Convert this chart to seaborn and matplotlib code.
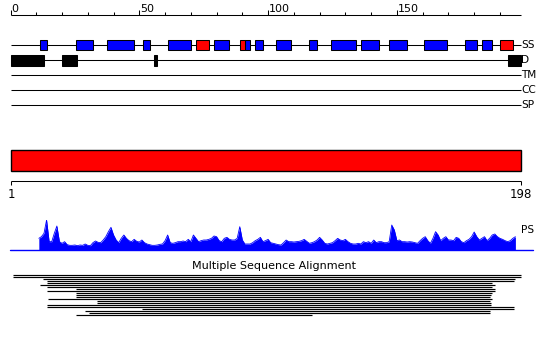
import matplotlib
matplotlib.use("Agg")
import matplotlib.pyplot as plt
import seaborn as sns
import numpy as np
import pandas as pd

# ---------------- data ----------------
seq_len = 198
ruler_ticks = list(range(0, 200, 10))
ruler_labels = [0, 50, 100, 150]

track_names = ["SS", "D", "TM", "CC", "SP"]

# secondary structure elements (start, end) in residue units
ss_blue = [(11.5, 14), (25.5, 32), (37.5, 48), (51.5, 54), (61, 70), (79, 85),
           (91, 93), (95, 98), (103, 109), (116, 119), (124.5, 134), (136, 143),
           (147, 154), (160.5, 169.5), (176.5, 181), (183, 187)]
ss_red = [(72, 77), (89, 91), (190, 195)]

# disorder segments
disorder = [(0, 13), (20, 26), (55.8, 56.8), (193, 198)]

# domain bar
domain = [(0, 198)]
domain_labels = ["1", "198"]

# PS profile, residues 11..196
ps_start = 11
ps_values = [35, 40, 50, 90, 25, 25, 50, 72, 25, 20,
             25, 16, 14, 14, 15, 13, 15, 14, 18, 14,
             13, 22, 27, 23, 22, 30, 40, 55, 68, 45,
             30, 22, 35, 45, 35, 28, 25, 32, 26, 24,
             30, 22, 18, 16, 14, 14, 15, 17, 18, 28,
             45, 22, 20, 22, 25, 25, 27, 25, 32, 25,
             45, 35, 25, 28, 30, 30, 32, 35, 42, 40,
             28, 25, 35, 38, 32, 30, 30, 35, 70, 30,
             18, 18, 18, 22, 28, 32, 38, 25, 28, 32,
             22, 20, 18, 16, 15, 22, 30, 25, 25, 24,
             25, 26, 28, 32, 26, 20, 22, 25, 30, 38,
             30, 20, 18, 20, 22, 28, 35, 30, 28, 32,
             25, 20, 18, 18, 20, 18, 25, 22, 25, 20,
             30, 22, 25, 25, 22, 22, 25, 75, 60, 28,
             30, 25, 25, 24, 25, 24, 22, 20, 28, 35,
             40, 28, 20, 35, 55, 45, 28, 35, 40, 30,
             30, 28, 38, 35, 25, 22, 28, 32, 40, 54,
             40, 30, 35, 40, 28, 35, 45, 48, 40, 35,
             32, 28, 25, 28, 35, 40]

# multiple sequence alignment rows (start, end) in residue units
msa_start = [1, 1, 12.5, 14, 14, 11.5, 14, 25.5, 14, 25.5, 25.5,
             25.5, 14.5, 33.5, 33.5, 14, 14, 51, 29, 30.5, 25.5]
msa_end = [198, 198, 196, 195.5, 187, 188, 187, 188, 188, 187, 186.5,
           186, 187, 186, 186.5, 186.5, 195.5, 195.5, 186, 186, 117]

# ---------------- layout ----------------
W, H = 550, 337
px_per_res = 2.576
x_origin = 10.5
xlim = (-x_origin / px_per_res, (W - x_origin) / px_per_res)

ruler_y = 15
track_y = {"SS": 45, "D": 60, "TM": 75, "CC": 90, "SP": 105}
box_h = {"SS": 10, "D": 11}
domain_y, domain_h = 160.5, 20.5
ruler2_y = 181
msa_y0, msa_dy = 275, 2.0

sns.set_theme(style="white")
plt.rcParams["font.family"] = ["DejaVu Sans"]

fig = plt.figure(figsize=(W / 100, H / 100), dpi=100)
ax = fig.add_axes([0, 0, 1, 1])
ax.set_xlim(*xlim)
ax.set_ylim(H, 0)
ax.axis("off")

lw1 = 0.75
fs_num = 8
fs_lab = 7.6

# top ruler
ax.hlines(ruler_y, 0, seq_len, color="black", lw=lw1)
minor = [t for t in ruler_ticks if t not in ruler_labels]
ax.vlines(minor, ruler_y - 3.5, ruler_y, color="black", lw=lw1)
ax.vlines(ruler_labels, ruler_y - 5, ruler_y, color="black", lw=lw1)
for t in ruler_labels:
    ax.text(t + 0.3, ruler_y - 3.5, str(t), ha="left", va="baseline",
            fontsize=fs_num, color="black")

# track lines and labels
for name in track_names:
    y = track_y[name]
    ax.hlines(y, 0, seq_len, color="black", lw=lw1, zorder=1)
    ax.text(seq_len + 0.3, y, name, ha="left", va="center",
            fontsize=fs_lab, color="black")

# SS boxes
for segs, col in [(ss_blue, "#0000ff"), (ss_red, "#ff0000")]:
    s = np.array(segs)
    ax.barh([track_y["SS"]] * len(s), s[:, 1] - s[:, 0], left=s[:, 0],
            height=box_h["SS"], color=col, edgecolor="black", linewidth=lw1,
            zorder=2)

# disorder boxes
d = np.array(disorder)
ax.barh([track_y["D"]] * len(d), d[:, 1] - d[:, 0], left=d[:, 0],
        height=box_h["D"], color="black", edgecolor="black", linewidth=lw1,
        zorder=2)

# domain bar
dm = np.array(domain)
ax.barh([domain_y] * len(dm), dm[:, 1] - dm[:, 0], left=dm[:, 0],
        height=domain_h, color="#ff0000", edgecolor="black", linewidth=1.0,
        zorder=2)

# lower ruler
ax.hlines(ruler2_y, 0, seq_len, color="black", lw=lw1)
ax.vlines([0, seq_len], ruler2_y, ruler2_y + 4, color="black", lw=lw1)
ax.text(0.3, ruler2_y + 14, domain_labels[0], ha="center", va="center",
        fontsize=fs_num + 0.5, color="black")
ax.text(seq_len, ruler2_y + 14, domain_labels[1], ha="center", va="center",
        fontsize=fs_num + 0.5, color="black")

# MSA
ax.text(102.3, 266, "Multiple Sequence Alignment", ha="center", va="center",
        fontsize=8, color="black")
rows = pd.DataFrame({"start": msa_start, "end": msa_end})
rows["y"] = msa_y0 + msa_dy * np.arange(len(rows))
ax.hlines(rows["y"], rows["start"], rows["end"], color="black", lw=0.85)

# PS profile axes
ps_base_px, ps_height_px = 250, 30
ax_ps = fig.add_axes([0, (H - ps_base_px) / H, 1, ps_height_px / H])
ax_ps.set_xlim(*xlim)
ax_ps.set_ylim(0, 90)
ax_ps.axis("off")
ax_ps.patch.set_alpha(0)
ps = pd.DataFrame({"pos": np.arange(ps_start, ps_start + len(ps_values)),
                   "score": ps_values})
ax_ps.fill_between(ps["pos"], 0, ps["score"], color="#0000ff", lw=0)
sns.lineplot(data=ps, x="pos", y="score", color="#0000ff", lw=0.6, ax=ax_ps)
ax_ps.axhline(0, xmin=10 / W, xmax=533 / W, color="#0000ff", lw=1.0,
              clip_on=False)
ax_ps.text(seq_len + 0.3, 60, "PS", ha="left", va="center",
           fontsize=fs_lab, color="black")

fig.savefig("out.png", dpi=100)
